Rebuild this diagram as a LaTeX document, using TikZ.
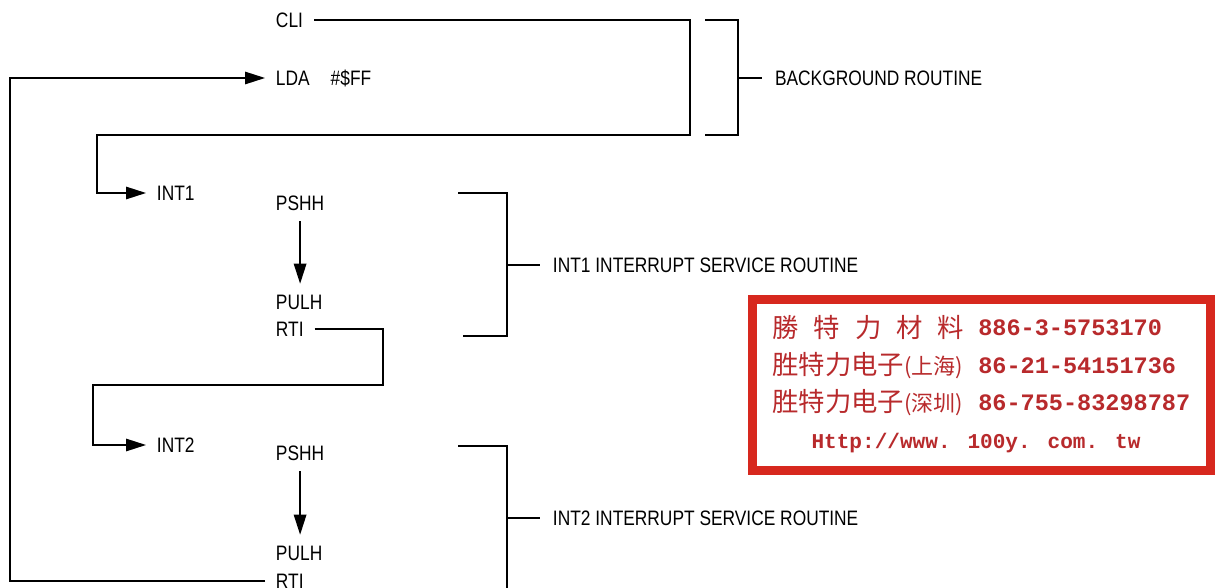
\documentclass[tikz,border=0pt]{standalone}
\usepackage{fontspec}
\setmainfont{Liberation Sans}[FakeStretch=0.83]
\newfontfamily\cjk{Noto Sans CJK SC}
\newfontfamily\stampmono{Liberation Mono}
\usetikzlibrary{arrows.meta,positioning,calc}
\usepackage{xcolor}
\definecolor{stampred}{HTML}{D7281E}
\definecolor{stampink}{HTML}{B82A2C}

\begin{document}
\begin{tikzpicture}[x=0.02cm, y=-0.02cm,
  every node/.style={font=\fontsize{11.9pt}{13pt}\selectfont},
  lbl/.style ={inner sep=0pt, outer sep=0.22cm, anchor=west},
  note/.style={inner sep=0pt, outer sep=0.26cm, anchor=west},
  ln/.style  ={line width=0.8pt},
  arr/.style ={ln, -{Triangle[length=0.4cm,width=0.25cm]}},
  stxt/.style={inner sep=0pt, anchor=west, text=stampink}
]
\useasboundingbox (0,0) rectangle (1215,588);
\clip (0,0) rectangle (1215,588);

%% ─── background routine ───────────────────────────────────────────────────
\node[lbl] (cli) at (265,20) {CLI};
\node[lbl] (lda) at (265,78) {LDA\hspace{0.42cm}\#\$FF};
\node[note] (bg_t) at (762,78) {BACKGROUND ROUTINE};

%% ─── INT1 service routine ─────────────────────────────────────────────────
\node[lbl] (int1)  at (146,193) {INT1};
\node[lbl] (psh_a) at (265,203) {PSHH};
\node[lbl] (pul_a) at (265,302) {PULH};
\node[lbl] (rti_a) at (265,329) {RTI};
\node[note] (isr_a) at (540,265) {INT1 INTERRUPT SERVICE ROUTINE};

%% ─── INT2 service routine ─────────────────────────────────────────────────
\node[lbl] (int2)  at (146,445) {INT2};
\node[lbl] (psh_b) at (265,453) {PSHH};
\node[lbl] (pul_b) at (265,553) {PULH};
\node[lbl] (rti_b) at (265,581) {RTI};
\node[note] (isr_b) at (540,518) {INT2 INTERRUPT SERVICE ROUTINE};

%% ─── flow lines ───────────────────────────────────────────────────────────
\coordinate (bg_ne)  at (690,20);
\coordinate (bg_sw)  at (97,135);
\coordinate (ra_e)   at (383,329);
\coordinate (ra_sw)  at (93,385);
\coordinate (loop_l) at (10,78);

\draw[arr] (cli.east) -- (bg_ne) |- (bg_sw) |- (int1.west);
\draw[arr] (psh_a.south) -- (psh_a.south |- pul_a.north);
\draw[arr] (rti_a.east) -- (ra_e) |- (ra_sw) |- (int2.west);
\draw[arr] (psh_b.south) -- (psh_b.south |- pul_b.north);
\draw[arr] (rti_b.west) -| (loop_l) -- (lda.west);

%% ─── brackets ─────────────────────────────────────────────────────────────
\draw[ln] (705,20) -- (738,20) -- (738,135) -- (705,135);
\draw[ln] (738,78) -- (bg_t.west);
\draw[ln] (458,193) -- (507,193) -- (507,336) -- (463,336);
\draw[ln] (507,265) -- (isr_a.west);
\draw[ln] (458,446) -- (507,446) -- (507,600);
\draw[ln] (507,518) -- (isr_b.west);

%% ─── stamp ────────────────────────────────────────────────────────────────
\fill[stampred] (748,295) rectangle (1215,475);
\fill[white] (757,304) rectangle (1206,466);

\node[stxt] (st_c1) at (772,328)
  {\cjk\fontsize{15pt}{15pt}\selectfont 勝\hspace{0.3cm}特\hspace{0.3cm}力\hspace{0.3cm}材\hspace{0.3cm}料};
\node[stxt] (st_c2) at (772,366)
  {\cjk\fontsize{15pt}{15pt}\selectfont 胜特力电子{\fontsize{12.5pt}{12pt}\selectfont(上海)}};
\node[stxt] (st_c3) at (772,403)
  {\cjk\fontsize{15pt}{15pt}\selectfont 胜特力电子{\fontsize{12.5pt}{12pt}\selectfont(深圳)}};
\node[stxt] (st_n1) at (978,328) {\stampmono\bfseries\fontsize{13.4pt}{14pt}\selectfont 886-3-5753170};
\node[stxt] (st_n2) at (978,366) {\stampmono\bfseries\fontsize{13.4pt}{14pt}\selectfont 86-21-54151736};
\node[stxt] (st_n3) at (978,403) {\stampmono\bfseries\fontsize{13.4pt}{14pt}\selectfont 86-755-83298787};
\node[stxt, anchor=center] (st_url) at (976,443)
  {\stampmono\bfseries\fontsize{12pt}{13pt}\selectfont Http://www. 100y. com. tw};

\end{tikzpicture}
\end{document}
